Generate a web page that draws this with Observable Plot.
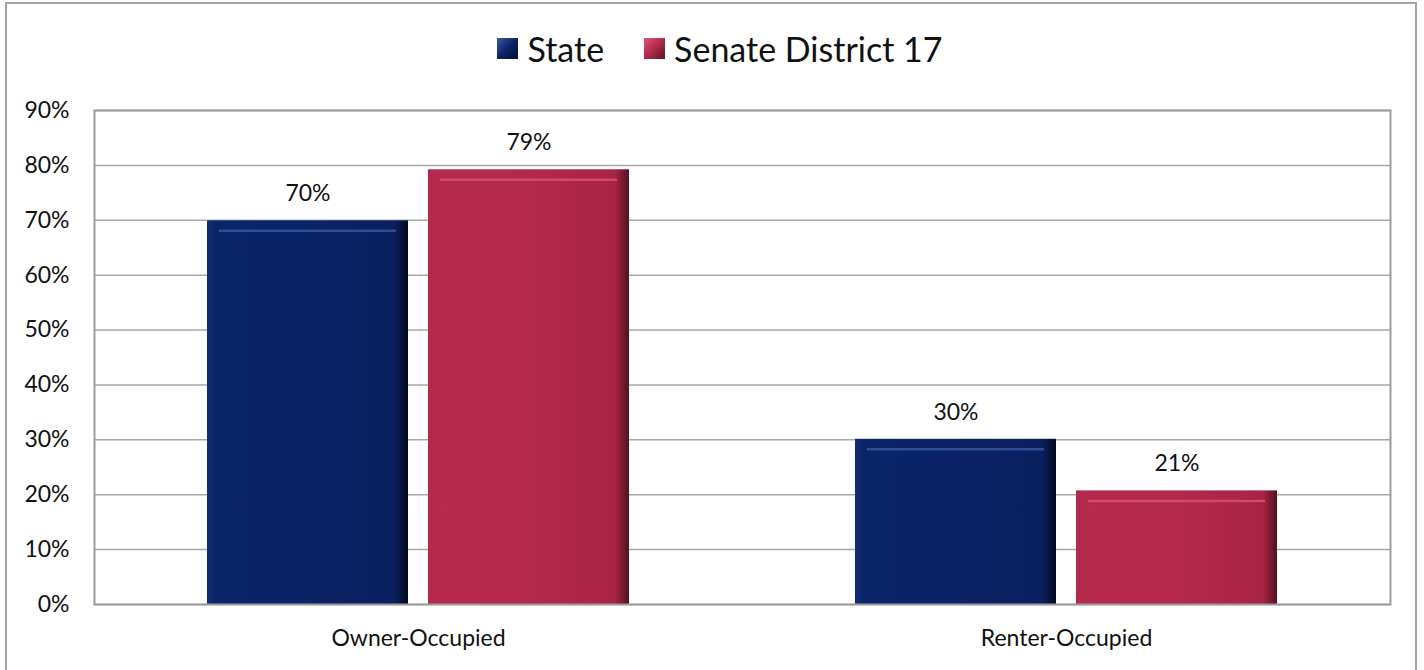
<!DOCTYPE html>
<html>
<head>
<meta charset="utf-8">
<script src="https://cdn.jsdelivr.net/npm/d3@7"></script>
<script src="https://cdn.jsdelivr.net/npm/@observablehq/plot@0.6"></script>
<style>
  html, body { margin: 0; padding: 0; background: #fff; }
  #wrap { position: relative; width: 1424px; height: 670px; overflow: hidden; font-family: Lato, "Open Sans", sans-serif; }
  #border { position: absolute; left: 5px; top: 2px; width: 1412px; height: 720px; border: 2px solid #a3a3a3; box-sizing: border-box; }
  #legend { position: absolute; left: 0; top: 0; width: 1424px; height: 96px; display: flex; justify-content: center; align-items: center; gap: 0; padding-left: 16px; box-sizing: border-box; }
  .item { display: flex; align-items: center; font-size: 34px; color: #111; margin: 0 20px; }
  .sw { width: 21px; height: 21px; margin-right: 9px; }
  #chart { position: absolute; left: 0; top: 96px; }
</style>
</head>
<body>
<div id="wrap">
  <div id="border"></div>
  <div id="legend"></div>
  <div id="chart"></div>
</div>
<script>
const categories = ["Owner-Occupied", "Renter-Occupied"];
const series = ["State", "Senate District 17"];
const stateValues = [0.699, 0.301];
const districtValues = [0.792, 0.207];
const yTicks = [0, 0.1, 0.2, 0.3, 0.4, 0.5, 0.6, 0.7, 0.8, 0.9];
const seriesColors = ["#0c2367", "#b3284c"];
const seriesLight = ["#3a5ca6", "#dc5878"];

const rows = [];
categories.forEach((c, i) => {
  rows.push({category: c, series: series[0], value: stateValues[i]});
  rows.push({category: c, series: series[1], value: districtValues[i]});
});

const fmt = d3.format(".0%");
const FS = 23;

const chart = Plot.plot({
  width: 1424,
  height: 574,
  marginTop: 14,
  marginBottom: 66,
  marginLeft: 94,
  marginRight: 34,
  style: {fontFamily: "Lato, 'Open Sans', sans-serif", fontSize: FS + "px", color: "#111", background: "transparent"},
  fx: {domain: categories, padding: 0, label: null},
  x: {domain: series, paddingInner: 0.09, paddingOuter: 0.5045, axis: null},
  y: {domain: [0, 0.9], label: null},
  color: {domain: series, range: ["url(#gState)", "url(#gDist)"]},
  marks: [
    Plot.gridY(yTicks, {stroke: "#a8a8a8", strokeOpacity: 1, strokeWidth: 1.5}),
    Plot.axisY({ticks: yTicks, tickFormat: fmt, tickSize: 0, tickPadding: 25, label: null, fontSize: FS}),
    Plot.axisFx({anchor: "bottom", tickSize: 0, tickPadding: 25, label: null, fontSize: FS}),
    Plot.barY(rows, {fx: "category", x: "series", y: "value", fill: "series"}),
    Plot.tickY(rows, {fx: "category", x: "series", y: "value", dy: 10, insetLeft: 12, insetRight: 12,
      stroke: d => seriesLight[series.indexOf(d.series)], strokeWidth: 2.5, strokeOpacity: 0.75}),
    Plot.text(rows, {fx: "category", x: "series", y: "value", text: d => fmt(d.value), dy: -27, fontSize: FS, fill: "#111"}),
    Plot.frame({facet: "super", stroke: "#9c9c9c", strokeWidth: 2})
  ]
});

// gradients for the beveled bars
const svg = d3.select(chart.tagName.toLowerCase() === "svg" ? chart : chart.querySelector("svg"));
const defs = svg.insert("defs", ":first-child");
function grad(id, stops) {
  const g = defs.append("linearGradient").attr("id", id).attr("x1", 0).attr("x2", 1).attr("y1", 0).attr("y2", 0);
  stops.forEach(([o, c]) => g.append("stop").attr("offset", o).attr("stop-color", c));
}
grad("gState", [[0, "#142c70"], [0.04, "#0c2468"], [0.5, "#0b2266"], [0.93, "#0a1f5e"], [1, "#020a22"]]);
grad("gDist", [[0, "#b02a4c"], [0.04, "#b5294d"], [0.5, "#b3284c"], [0.93, "#a82446"], [1, "#561020"]]);

document.getElementById("chart").appendChild(chart);

const legend = document.getElementById("legend");
series.forEach((s, i) => {
  const item = document.createElement("div");
  item.className = "item";
  const sw = document.createElement("div");
  sw.className = "sw";
  sw.style.background = `linear-gradient(135deg, ${seriesLight[i]} 0%, ${seriesColors[i]} 50%, ${i === 0 ? "#030d2e" : "#5e1424"} 100%)`;
  const t = document.createElement("span");
  t.textContent = s;
  item.appendChild(sw);
  item.appendChild(t);
  legend.appendChild(item);
});
</script>
</body>
</html>
